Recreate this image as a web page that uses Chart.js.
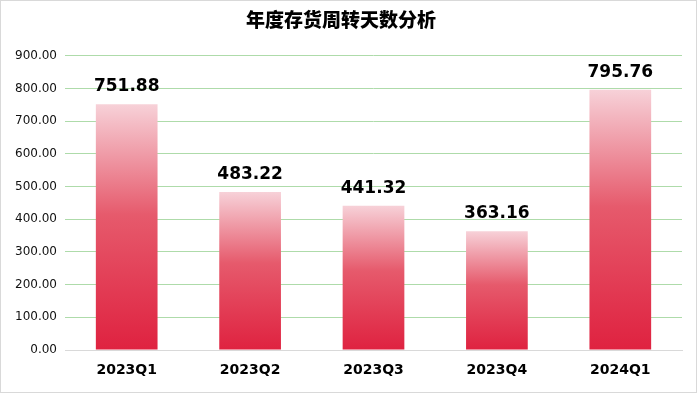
<!DOCTYPE html>
<html>
<head>
<meta charset="utf-8">
<script src="https://cdn.jsdelivr.net/npm/chart.js@4.4.1/dist/chart.umd.min.js"></script>
<style>
  html, body { margin: 0; padding: 0; background: #fff; }
  #wrap { width: 697px; height: 393px; position: relative; }
</style>
</head>
<body>
<div id="wrap"><canvas id="c" width="697" height="393"></canvas></div>
<script>
const quarters = ["2023Q1", "2023Q2", "2023Q3", "2023Q4", "2024Q1"];
const turnoverDays = [751.88, 483.22, 441.32, 363.16, 795.76];
const yMax = 900;
const yStep = 100;

// light pink at the top of each bar fading to strong red at the base
function barGradient(context) {
  const chart = context.chart;
  if (!chart.chartArea || context.parsed === undefined) return '#e0233f';
  const y = chart.scales.y;
  const top = y.getPixelForValue(context.parsed.y);
  const base = y.getPixelForValue(0);
  const g = chart.ctx.createLinearGradient(0, top, 0, base);
  g.addColorStop(0, '#f7d1d8');
  g.addColorStop(0.45, '#e65a6c');
  g.addColorStop(1, '#df2240');
  return g;
}

// white background + thin grey frame
const frame = {
  id: 'frame',
  beforeDraw(chart) {
    const ctx = chart.ctx;
    ctx.save();
    ctx.fillStyle = '#fff';
    ctx.fillRect(0, 0, chart.width, chart.height);
    ctx.strokeStyle = '#d9d9d9';
    ctx.lineWidth = 1;
    ctx.strokeRect(0.5, 0.5, chart.width - 1, chart.height - 1);
    ctx.restore();
  }
};

// value labels above bars
const valueLabels = {
  id: 'valueLabels',
  afterDatasetsDraw(chart) {
    const ctx = chart.ctx;
    const meta = chart.getDatasetMeta(0);
    ctx.save();
    ctx.font = 'bold 17px "DejaVu Sans"';
    ctx.fillStyle = '#000';
    ctx.textAlign = 'center';
    ctx.textBaseline = 'bottom';
    meta.data.forEach((bar, i) => {
      ctx.fillText(turnoverDays[i].toFixed(2), bar.x, bar.y - 9);
    });
    ctx.restore();
  }
};

new Chart(document.getElementById('c'), {
  type: 'bar',
  data: {
    labels: quarters,
    datasets: [{
      data: turnoverDays,
      backgroundColor: barGradient,
      borderWidth: 0,
      barPercentage: 0.5,
      categoryPercentage: 1
    }]
  },
  options: {
    responsive: false,
    animation: false,
    devicePixelRatio: 1,
    layout: { padding: { top: 6, right: 15, bottom: 0, left: 0 } },
    plugins: {
      legend: { display: false },
      tooltip: { enabled: false },
      title: {
        display: true,
        text: '年度存货周转天数分析',
        color: '#000',
        font: { family: '"Noto Sans CJK SC"', size: 19, weight: 900 },
        padding: { top: 2, bottom: 25 }
      }
    },
    scales: {
      x: {
        grid: { display: false, drawTicks: false },
        border: { color: '#d9d9d9', width: 1 },
        ticks: {
          color: '#000',
          padding: 12,
          font: { family: '"DejaVu Sans"', size: 14, weight: 'bold' }
        },
        afterFit(scale) { scale.height = 43; }
      },
      y: {
        min: 0,
        max: yMax,
        border: { display: false },
        grid: {
          drawTicks: false,
          color: ctx => ctx.tick && ctx.tick.value === 0 ? '#d9d9d9' : '#aedbaa',
          lineWidth: 1
        },
        ticks: {
          stepSize: yStep,
          color: '#111',
          padding: 8,
          font: { family: '"DejaVu Sans"', size: 12 },
          callback: v => v.toFixed(2)
        },
        afterFit(scale) { scale.width = 65; }
      }
    }
  },
  plugins: [frame, valueLabels]
});
</script>
</body>
</html>
